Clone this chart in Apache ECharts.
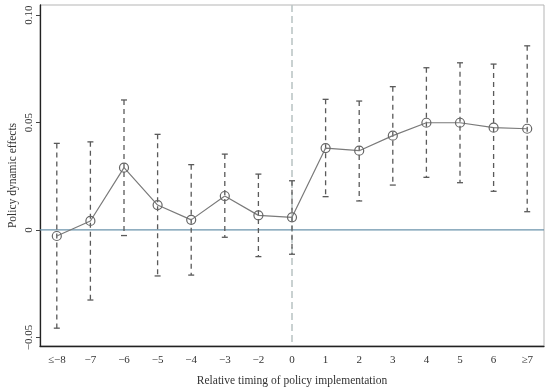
<!DOCTYPE html>
<html>
<head>
<meta charset="utf-8">
<script src="https://cdn.jsdelivr.net/npm/echarts@6/dist/echarts.min.js"></script>
<style>html,body{margin:0;padding:0;background:#fff;}#c{width:550px;height:388px;}</style>
</head>
<body>
<div id="c"></div>
<script>
const categories = ['≤−8','−7','−6','−5','−4','−3','−2','0','1','2','3','4','5','6','≥7'];
const estimates = [-0.0028,0.0042,0.0290,0.0116,0.0047,0.0158,0.0068,0.0059,0.0381,0.0369,0.0439,0.0499,0.0499,0.0476,0.0471];
const upper = [0.0403,0.0410,0.0605,0.0445,0.0304,0.0353,0.0260,0.0229,0.0608,0.0600,0.0667,0.0755,0.0778,0.0772,0.0857];
const lower = [-0.0457,-0.0326,-0.0026,-0.0214,-0.0210,-0.0034,-0.0124,-0.0113,0.0155,0.0135,0.0209,0.0245,0.0220,0.0180,0.0085];
const yTicks = [-0.05, 0, 0.05, 0.10];
const yTickLabels = ['−0.05', '0', '0.05', '0.10'];
const eventIndex = 7;

const font = 'Liberation Serif';
const chart = echarts.init(document.getElementById('c'));
const ciData = categories.map((c, i) => [i, lower[i], upper[i]]);

chart.setOption({
  animation: false,
  backgroundColor: '#fff',
  grid: { left: 40, right: 6, top: 5, bottom: 42, show: true, borderColor: '#b5b5b5', borderWidth: 1,
          outerBoundsMode: 'none', containLabel: false },
  xAxis: {
    type: 'category',
    data: categories,
    boundaryGap: true,
    name: 'Relative timing of policy implementation',
    nameLocation: 'middle',
    nameGap: 29,
    nameMoveOverlap: false,
    nameTextStyle: { fontFamily: font, fontSize: 11.5, color: '#333' },
    axisLine: { onZero: false, lineStyle: { color: '#222', width: 1.3 } },
    axisTick: { alignWithLabel: true, length: 4, lineStyle: { color: '#444' } },
    axisLabel: { fontFamily: font, fontSize: 11, color: '#333', margin: 9 },
    splitLine: { show: false }
  },
  yAxis: {
    type: 'value',
    min: -0.054,
    max: 0.1047,
    name: 'Policy dynamic effects',
    nameLocation: 'middle',
    nameGap: 21,
    nameMoveOverlap: false,
    nameTextStyle: { fontFamily: font, fontSize: 11.5, color: '#333' },
    axisLine: { show: true, onZero: false, lineStyle: { color: '#222', width: 1.3 } },
    axisTick: { show: true, length: 4, customValues: yTicks, lineStyle: { color: '#444' } },
    axisLabel: {
      fontFamily: font, fontSize: 11, color: '#333', rotate: 90, margin: 5,
      customValues: yTicks,
      formatter: function (v) {
        for (let k = 0; k < yTicks.length; k++) if (Math.abs(v - yTicks[k]) < 1e-9) return yTickLabels[k];
        return '';
      }
    },
    splitLine: { show: false }
  },
  series: [
    {
      type: 'custom',
      z: 1,
      data: [[eventIndex]],
      silent: true,
      renderItem: function (params, api) {
        const p = api.coord([api.value(0), 0]);
        const cs = params.coordSys;
        return {
          type: 'group',
          children: [
            { type: 'line', shape: { x1: p[0], y1: cs.y, x2: p[0], y2: cs.y + cs.height },
              style: { stroke: '#bcc6c6', lineWidth: 1.6, lineDash: [7, 4] } },
            { type: 'line', shape: { x1: cs.x, y1: p[1], x2: cs.x + cs.width, y2: p[1] },
              style: { stroke: '#6b93ab', lineWidth: 1.3 } }
          ]
        };
      }
    },
    {
      type: 'custom',
      z: 3,
      data: ciData,
      renderItem: function (params, api) {
        const x = api.value(0);
        const lo = api.coord([x, api.value(1)]);
        const hi = api.coord([x, api.value(2)]);
        const cap = 3;
        return {
          type: 'group',
          children: [
            { type: 'line', shape: { x1: hi[0], y1: hi[1], x2: lo[0], y2: lo[1] },
              style: { stroke: '#5a5a5a', lineWidth: 1.3, lineDash: [5, 4] } },
            { type: 'line', shape: { x1: lo[0] - cap, y1: lo[1], x2: lo[0] + cap, y2: lo[1] },
              style: { stroke: '#5a5a5a', lineWidth: 1.3 } },
            { type: 'line', shape: { x1: hi[0] - cap, y1: hi[1], x2: hi[0] + cap, y2: hi[1] },
              style: { stroke: '#5a5a5a', lineWidth: 1.3 } }
          ]
        };
      }
    },
    {
      type: 'line',
      z: 4,
      data: estimates,
      symbol: 'circle',
      symbolSize: 9,
      itemStyle: { color: 'rgba(255,255,255,0)', borderColor: '#666', borderWidth: 1.2 },
      lineStyle: { color: '#7a7a7a', width: 1.2 }
    }
  ]
});
</script>
</body>
</html>
